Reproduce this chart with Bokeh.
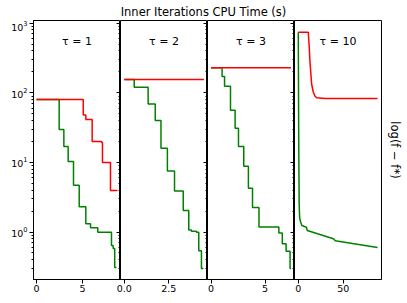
from math import pi
from bokeh.plotting import figure
from bokeh.models import Range1d, LogAxis, Label, FixedTicker, LogTicker, CustomJSTickFormatter
from bokeh.layouts import row, column
from bokeh.embed import file_html
from bokeh.resources import INLINE

title_text = "Inner Iterations CPU Time (s)"
ylabel_text = "log(f − f*)"
panel_labels = ["τ = 1", "τ = 2", "τ = 3", "τ = 10"]

# ---- data (CPU time, f - f*) ----
p1_red_t = [0, 5.08, 5.36, 6.05, 7.07, 7.17, 8.04, 8.8]
p1_red_v = [80, 48, 41.5, 20, 19.4, 10, 3.95, 3.95]
p1_green_t = [0, 2.46, 2.97, 3.44, 4.02, 4.64, 5.36, 5.87, 6.66, 8.15, 8.33, 8.5, 8.7]
p1_green_v = [80, 29.7, 17, 10.3, 4.7, 2.3, 1.31, 1.15, 0.99, 0.64, 0.58, 0.31, 0.31]

p2_red_t = [0, 4.47]
p2_red_v = [155, 155]
p2_green_t = [0, 0.56, 1.34, 1.74, 2.06, 2.42, 2.82, 3.31, 3.62, 3.77, 4.05, 4.18, 4.33, 4.44]
p2_green_v = [155, 120, 69, 40, 16, 7.5, 3.9, 2.04, 1.07, 1.03, 0.99, 0.54, 0.30, 0.30]

p3_red_t = [0, 7.4]
p3_red_v = [229, 229]
p3_green_t = [0, 1.02, 1.25, 1.80, 2.23, 2.54, 3.03, 3.46, 3.84, 4.44, 6.28, 6.6, 6.95, 7.32, 7.41]
p3_green_v = [229, 171, 124, 56, 31, 17, 8.8, 4.26, 2.25, 1.18, 0.97, 0.68, 0.53, 0.30, 0.30]

p4_red_t = [0, 11.1, 12.2, 12.9, 14.8, 16.7, 18.5, 20.3, 30, 88]
p4_red_v = [742, 742, 450, 290, 134, 102, 90, 85, 83, 83]
p4_green_t = [0, 0.5, 1.0, 1.5, 2.5, 4, 9, 10, 39, 41, 88]
p4_green_v = [742, 20, 2.5, 1.6, 1.4, 1.24, 1.17, 1.05, 0.80, 0.75, 0.60]

x_ticks = [[0, 5], [0, 2.5], [0, 5], [0, 50]]
x_tick_labels = [["0", "5"], ["0.0", "2.5"], ["0", "5"], ["0", "50"]]
x_limits = [(-0.33, 9.13), (-0.21, 4.67), (-0.33, 7.73), (-4.2, 92.4)]
step_kind = [True, True, True, False]

series = [
    (p1_green_t, p1_green_v, p1_red_t, p1_red_v),
    (p2_green_t, p2_green_v, p2_red_t, p2_red_v),
    (p3_green_t, p3_green_v, p3_red_t, p3_red_v),
    (p4_green_t, p4_green_v, p4_red_t, p4_red_v),
]

RED = "#ff0000"
GREEN = "#008000"
FONT = "DejaVu Sans"
FW, FH = 87, 259
OVER = 12

y_range = Range1d(0.208, 1094)
blank = CustomJSTickFormatter(code="return ' ';")

figs = []
for i, (gt, gv, rt, rv) in enumerate(series):
    first = i == 0
    last = i == 3
    x0, x1 = x_limits[i]
    p = figure(
        frame_width=FW, frame_height=FH,
        x_range=Range1d(x0, x1), y_range=y_range,
        y_axis_type="log", toolbar_location=None, output_backend="svg",
        min_border_left=24 if first else OVER,
        min_border_right=18 if last else 0,
        min_border_top=0, min_border_bottom=16,
    )
    if not first:
        p.margin = (0, 0, 0, -OVER)
        p.border_fill_color = None
    p.xgrid.visible = False
    p.ygrid.visible = False
    p.outline_line_color = "black"
    p.outline_line_width = 1
    p.outline_line_alpha = 1

    if step_kind[i]:
        p.step(gt, gv, mode="after", line_color=GREEN, line_width=1.5)
        p.step(rt, rv, mode="after", line_color=RED, line_width=1.5)
    else:
        p.line(gt, gv, line_color=GREEN, line_width=1.5)
        p.line(rt, rv, line_color=RED, line_width=1.5)

    xa = p.xaxis[0]
    xa.ticker = FixedTicker(ticks=x_ticks[i])
    xa.major_label_overrides = {t: l for t, l in zip(x_ticks[i], x_tick_labels[i])}
    xa.major_tick_out = 4
    xa.major_tick_in = 0
    xa.minor_tick_line_color = None
    xa.major_label_standoff = 1
    xa.major_label_text_font = FONT
    xa.major_label_text_font_size = "9.5px"
    xa.major_label_text_color = "black"
    xa.axis_line_color = "black"
    xa.major_tick_line_color = "black"

    ya = p.yaxis[0]
    ya.ticker = LogTicker(num_minor_ticks=10)
    ya.major_tick_out = 4
    ya.major_tick_in = 0
    ya.minor_tick_out = 2
    ya.minor_tick_in = 0
    ya.axis_line_color = "black"
    ya.major_tick_line_color = "black"
    ya.minor_tick_line_color = "black"
    ya.major_label_standoff = 2
    ya.major_label_text_font = FONT
    ya.major_label_text_color = "black"
    ya.major_label_text_font_size = "9.5px"
    if not first:
        ya.formatter = blank
        ya.major_label_standoff = 0
        ya.major_label_text_font_size = "1px"

    p.add_layout(Label(
        x=0.5 * (x0 + x1), y=550, text=panel_labels[i], text_align="center",
        text_baseline="middle", text_font=FONT, text_font_size="11px",
        text_color="black"))

    if last:
        ra = LogAxis(
            ticker=LogTicker(num_minor_ticks=10), formatter=blank, axis_label=ylabel_text,
            major_tick_line_color=None, minor_tick_line_color=None,
            major_tick_out=0, minor_tick_out=0, major_tick_in=0, minor_tick_in=0,
            major_label_text_font_size="1px", major_label_standoff=0,
            axis_line_color=None, axis_label_standoff=3,
            axis_label_text_font=FONT, axis_label_text_font_size="11.5px",
            axis_label_text_font_style="normal", axis_label_text_color="black")
        p.add_layout(ra, "right")
    figs.append(p)

total_w = 24 + FW * 4 + 18
t = figure(width=total_w, height=16, x_range=Range1d(0, 1), y_range=Range1d(0, 1),
           toolbar_location=None, output_backend="svg", min_border=0)
t.axis.visible = False
t.grid.visible = False
t.outline_line_color = None
t.add_layout(Label(x=0.5, y=0.53, text=title_text, text_align="center",
                   text_baseline="middle", text_font=FONT, text_font_size="11.5px",
                   text_color="black"))

layout = column(t, row(*figs, spacing=0), spacing=0, margin=(4, 0, 0, 8))
open("out.html", "w").write(file_html(layout, INLINE))
